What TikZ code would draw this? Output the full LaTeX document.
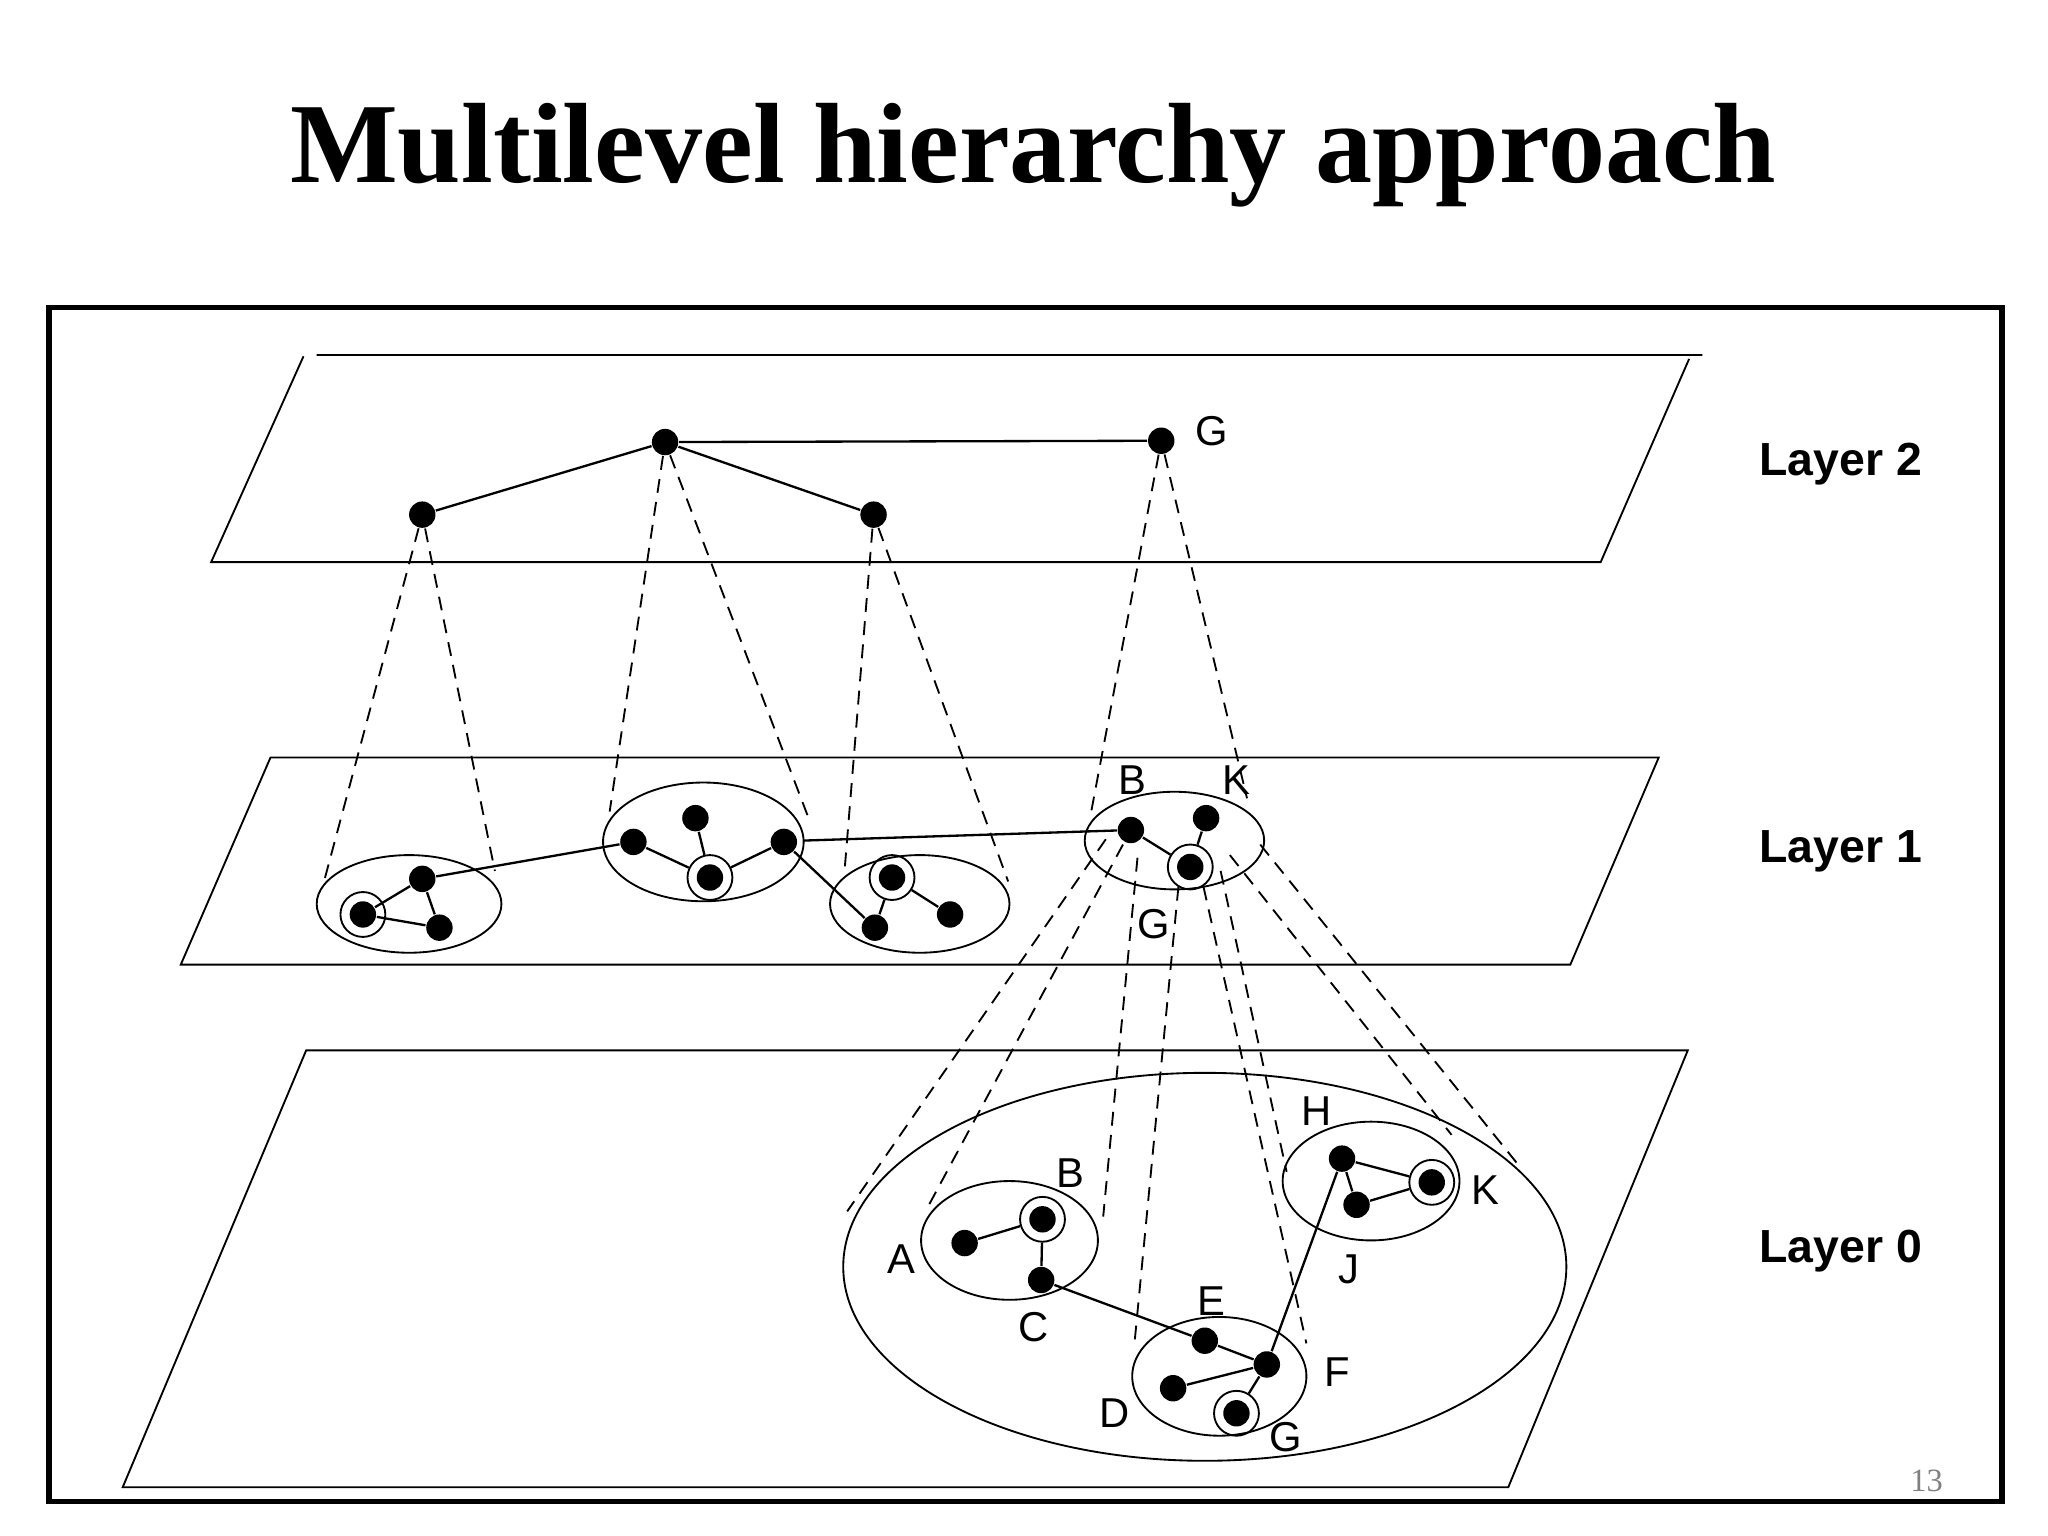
\documentclass[tikz,border=0pt]{standalone}
\usepackage{fontspec}
\setmainfont{Liberation Serif}
\setsansfont{Liberation Sans}
\begin{document}
\begin{tikzpicture}[x=0.01cm,y=-0.01cm,
  dot/.style={circle,fill=black,inner sep=0pt,minimum size=0.2cm},
  ring/.style={circle,draw,inner sep=0pt,minimum size=0.34cm},
  lab/.style={font=\sffamily\fontsize{9}{9}\selectfont},
  layerlab/.style={font=\sffamily\bfseries\fontsize{10}{10}\selectfont},
  dsh/.style={dashed,dash pattern=on 3pt off 2pt,line width=0.4pt},
  edge/.style={line width=0.5pt}]
\useasboundingbox (0,0) rectangle (1552,1164);
\node[font=\bfseries\fontsize{24.6}{25}\selectfont] (title) at (783,118) {Multilevel hierarchy approach};
\draw[line width=1.2pt] (37,233) rectangle (1517,1138);
% planes
\draw (240,269)--(1290,269) (230,270)--(160,426)--(1213,426)--(1280,272);
\draw (205,574)--(1257,574)--(1190,731)--(137,731)--cycle;
\draw (232,796)--(1279,796)--(1143,1127)--(93,1127)--cycle;
\node[layerlab] (l2) at (1395,352) {Layer 2};
\node[layerlab] (l1) at (1395,645) {Layer 1};
\node[layerlab] (l0) at (1395,948) {Layer 0};
\node[font=\fontsize{7}{7}\selectfont,text=gray] (pg) at (1460,1122) {13};
% layer 2
\node[dot] (a) at (320,390) {};
\node[dot] (b) at (504,335) {};
\node[dot] (c) at (662,390) {};
\node[dot] (g) at (880,334) {};
\node[lab] (gl) at (918,327) {G};
\draw[edge] (a)--(b)--(c) (b)--(g);
% layer 1 clusters
\draw (310,685) ellipse [x radius=70,y radius=37];
\node[dot] (p1) at (320,666) {}; \node[dot] (p2) at (275,693) {}; \node[ring] (p2r) at (275,693) {}; \node[dot] (p3) at (333,703) {};
\draw[edge] (p1)--(p2) (p1)--(p3) (p2)--(p3);
\draw (533,638) ellipse [x radius=76,y radius=45];
\node[dot] (q1) at (480,638) {}; \node[dot] (q2) at (527,620) {}; \node[dot] (q3) at (538,665) {}; \node[ring] (q3r) at (538,665) {}; \node[dot] (q4) at (594,638) {};
\draw[edge] (q1)--(q3r) (q2)--(q3r) (q4)--(q3r);
\draw (697,685) ellipse [x radius=68,y radius=37];
\node[dot] (r1) at (676,665) {}; \node[ring] (r1r) at (676,665) {}; \node[dot] (r2) at (663,703) {}; \node[dot] (r3) at (720,693) {};
\draw[edge] (r1r)--(r2) (r1r)--(r3);
\draw (890,637) ellipse [x radius=68,y radius=37];
\node[dot] (sB) at (857,629) {}; \node[dot] (sK) at (914,620) {}; \node[dot] (sG) at (902,657) {}; \node[ring] (sGr) at (902,657) {};
\draw[edge] (sB)--(sGr) (sK)--(sGr);
\node[lab] (sBl) at (858,591) {B}; \node[lab] (sKl) at (937,591) {K}; \node[lab] (sGl) at (874,700) {G};
\coordinate (c2e) at (609,637);
\draw[edge] (p1)--(q1) (q4)--(r2) (c2e)--(sB);
% dashed 2->1
\coordinate (t1) at (245,670); \coordinate (t2) at (375,660);
\coordinate (t3) at (462,615); \coordinate (t4) at (612,618);
\coordinate (t5) at (640,660); \coordinate (t6) at (764,668);
\coordinate (t7) at (826,620); \coordinate (t8) at (945,605);
\draw[dsh] (a)--(t1) (a)--(t2) (b)--(t3) (b)--(t4) (c)--(t5) (c)--(t6) (g)--(t7) (g)--(t8);
% layer 0
\draw (913,960) ellipse [x radius=274,y radius=147];
\draw (765,940) ellipse [x radius=67,y radius=45];
\node[dot] (A) at (731,942) {}; \node[dot] (B) at (790,924) {}; \node[ring] (Br) at (790,924) {}; \node[dot] (C) at (789,970) {};
\draw[edge] (A)--(Br)--(C);
\node[lab] (Al) at (683,954) {A}; \node[lab] (Bl) at (811,889) {B}; \node[lab] (Cl) at (783,1006) {C};
\draw (1039,895) ellipse [x radius=67,y radius=45];
\node[dot] (H) at (1017,878) {}; \node[dot] (K) at (1085,896) {}; \node[ring] (Kr) at (1085,896) {}; \node[dot] (J) at (1028,913) {};
\draw[edge] (H)--(Kr) (H)--(J) (J)--(Kr);
\node[lab] (Hl) at (998,842) {H}; \node[lab] (Kl) at (1126,902) {K}; \node[lab] (Jl) at (1022,962) {J};
\draw (924,1043) ellipse [x radius=66,y radius=45];
\node[dot] (E) at (913,1016) {}; \node[dot] (F) at (960,1034) {}; \node[dot] (D) at (889,1052) {}; \node[dot] (G) at (937,1071) {}; \node[ring] (Gr) at (937,1071) {};
\draw[edge] (E)--(F) (D)--(F) (F)--(Gr);
\node[lab] (El) at (918,986) {E}; \node[lab] (Fl) at (1013,1040) {F}; \node[lab] (Dl) at (845,1071) {D}; \node[lab] (Gl) at (974,1089) {G};
\draw[edge] (C)--(E) (F)--(H);
% dashed 1->0
\coordinate (u1) at (838,636); \coordinate (v1) at (642,918);
\coordinate (u2) at (851,640); \coordinate (v2) at (704,913);
\coordinate (u3) at (862,650); \coordinate (v3) at (836,922);
\coordinate (u4) at (893,672); \coordinate (v4) at (860,1015);
\coordinate (u5) at (912,672); \coordinate (v5) at (990,1018);
\coordinate (u6) at (925,660); \coordinate (v6) at (975,888);
\coordinate (u7) at (932,648); \coordinate (v7) at (1100,860);
\coordinate (u8) at (955,640); \coordinate (v8) at (1150,882);
\draw[dsh] (u1)--(v1) (u2)--(v2) (u3)--(v3) (u4)--(v4) (u5)--(v5) (u6)--(v6) (u7)--(v7) (u8)--(v8);
\end{tikzpicture}
\end{document}
